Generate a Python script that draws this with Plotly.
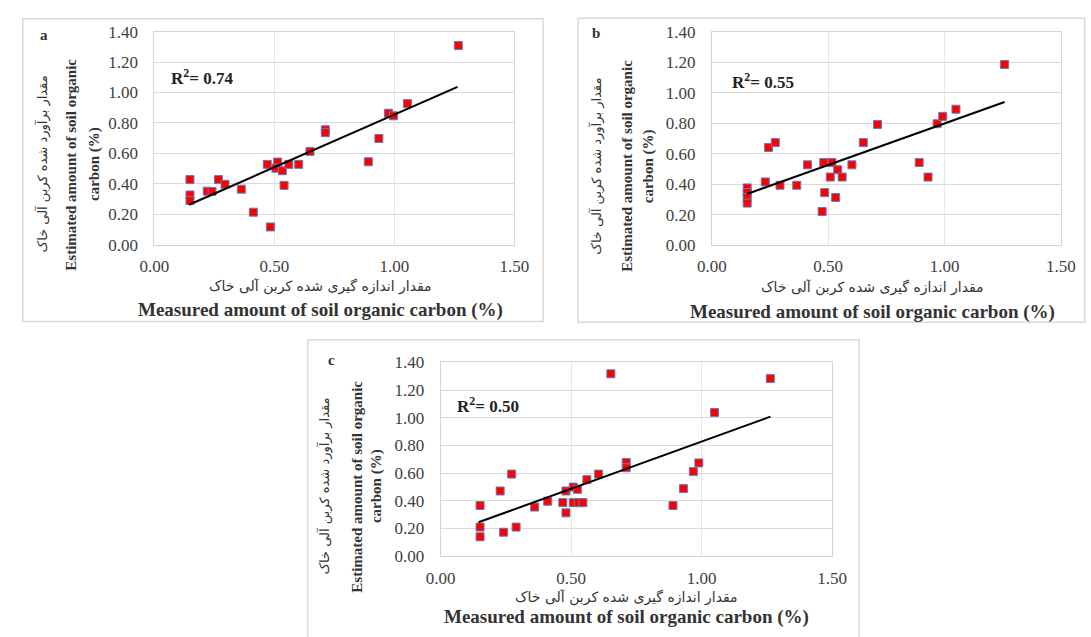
import plotly.graph_objects as go

# ---------------- data ----------------
a_x = [0.148, 0.148, 0.148, 0.22, 0.24, 0.267, 0.294, 0.362, 0.412, 0.483, 0.470, 0.513, 0.506,
       0.533, 0.540, 0.560, 0.601, 0.648, 0.712, 0.712, 0.891, 0.935, 0.975, 0.996, 1.054, 1.266]
a_y = [0.428, 0.327, 0.291, 0.352, 0.350, 0.428, 0.397, 0.365, 0.214, 0.117, 0.528, 0.543, 0.503,
       0.486, 0.390, 0.528, 0.528, 0.613, 0.755, 0.736, 0.545, 0.698, 0.864, 0.847, 0.927, 1.309]
a_trend_x = [0.144, 1.263]
a_trend_y = [0.263, 1.037]

b_x = [0.152, 0.152, 0.152, 0.152, 0.230, 0.244, 0.273, 0.293, 0.365, 0.411, 0.474, 0.485, 0.481,
       0.516, 0.509, 0.532, 0.541, 0.560, 0.602, 0.651, 0.712, 0.891, 0.929, 0.968, 0.992, 1.049, 1.258]
b_y = [0.375, 0.345, 0.310, 0.275, 0.414, 0.640, 0.672, 0.392, 0.392, 0.526, 0.220, 0.344, 0.541,
       0.541, 0.446, 0.312, 0.494, 0.446, 0.526, 0.672, 0.791, 0.541, 0.446, 0.796, 0.844, 0.891, 1.184]
b_trend_x = [0.151, 1.258]
b_trend_y = [0.335, 0.938]

c_x = [0.151, 0.151, 0.151, 0.228, 0.241, 0.272, 0.289, 0.360, 0.410, 0.468, 0.480, 0.480, 0.508, 0.508,
       0.524, 0.528, 0.545, 0.560, 0.605, 0.652, 0.711, 0.711, 0.890, 0.930, 0.968, 0.989, 1.049, 1.263]
c_y = [0.366, 0.210, 0.140, 0.471, 0.173, 0.593, 0.210, 0.355, 0.397, 0.387, 0.471, 0.313, 0.499, 0.387,
       0.483, 0.387, 0.387, 0.553, 0.593, 1.318, 0.677, 0.639, 0.366, 0.488, 0.611, 0.674, 1.038, 1.283]
c_trend_x = [0.145, 1.263]
c_trend_y = [0.245, 1.008]

panel_letters = ["a", "b", "c"]
r2_labels = ["R<sup>2</sup>= 0.74", "R<sup>2</sup>= 0.55", "R<sup>2</sup>= 0.50"]
x_ticks = [0.0, 0.5, 1.0, 1.5]
y_ticks = [0.0, 0.2, 0.4, 0.6, 0.8, 1.0, 1.2, 1.4]
x_title_en = "Measured amount of soil organic carbon (%)"
x_title_fa = "مقدار اندازه گیری شده کربن آلی خاک"
y_title_en1 = "Estimated amount of soil organic"
y_title_en2 = "carbon (%)"
y_title_fa = "مقدار برآورد شده کربن آلی خاک"

# ---------------- layout geometry (pixels) ----------------
W, H = 1091, 637
def px(x): return x / W
def py(y): return 1 - y / H

panels = [
    # plot area (l, r, t, b), box (l, r, t, b)
    dict(plot=(143.4, 513.6, 23.3, 243.0), box=(8, 543, 10, 322),
         letter=(30, 27), r2=(158, 70), ytl=(28, 58, 81, 160), xtl=(314, 286, 310)),
    dict(plot=(716.5, 1075.5, 23.3, 243.3), box=(579, 1100, 9.5, 323),
         letter=(597, 25), r2=(735, 74), ytl=(598, 629, 651, 162), xtl=(882, 287, 312)),
    dict(plot=(437.7, 840.3, 364.3, 564.0), box=(301, 868, 341, 660),
         letter=(325, 362), r2=(452, 408), ytl=(318, 352, 372, 492), xtl=(629, 607, 627)),
]

datasets = [(a_x, a_y, a_trend_x, a_trend_y), (b_x, b_y, b_trend_x, b_trend_y),
            (c_x, c_y, c_trend_x, c_trend_y)]

serif = "Liberation Serif, Times New Roman, serif"
fa_font = "DejaVu Sans, Noto Sans, sans-serif"

fig = go.Figure()
shapes, annotations = [], []
layout_axes = {}

for i, (p, d) in enumerate(zip(panels, datasets)):
    n = "" if i == 0 else str(i + 1)
    xa, ya = "x" + n, "y" + n
    l, r, t, b = p["plot"]
    fig.add_trace(go.Scatter(x=d[0], y=d[1], mode="markers", xaxis=xa, yaxis=ya,
                             marker=dict(symbol="square", size=8, color="#ff0000",
                                         line=dict(color="#5b80c0", width=1)),
                             showlegend=False))
    fig.add_trace(go.Scatter(x=d[2], y=d[3], mode="lines", xaxis=xa, yaxis=ya,
                             line=dict(color="black", width=2), showlegend=False))
    layout_axes["xaxis" + n] = dict(
        domain=[px(l), px(r)], anchor=ya, range=[0, 1.5], tickvals=x_ticks,
        tickformat=".2f", showgrid=True, gridcolor="#ebe7dc", gridwidth=1,
        zeroline=False, showline=True, mirror=True, linecolor="#d4d4d4", linewidth=1,
        ticks="outside", ticklen=6, tickcolor="rgba(0,0,0,0)",
        tickfont=dict(family=serif, size=17, color="#404040"),
        fixedrange=True)
    layout_axes["yaxis" + n] = dict(
        domain=[py(b), py(t)], anchor=xa, range=[0, 1.4], tickvals=y_ticks,
        tickformat=".2f", showgrid=True, gridcolor="#dadada", gridwidth=1,
        zeroline=False, showline=True, mirror=True, linecolor="#d4d4d4", linewidth=1,
        ticks="outside", ticklen=12, tickcolor="rgba(0,0,0,0)",
        tickfont=dict(family=serif, size=17, color="#404040"),
        fixedrange=True)
    bl, br, bt, bb = p["box"]
    shapes.append(dict(type="rect", xref="paper", yref="paper", x0=px(bl), x1=px(br),
                       y0=py(bb), y1=py(bt), line=dict(color="#d9d9d9", width=1.5)))
    # panel letter
    annotations.append(dict(text="<b>%s</b>" % panel_letters[i], x=px(p["letter"][0]),
                            y=py(p["letter"][1]), xref="paper", yref="paper",
                            showarrow=False, font=dict(family=serif, size=15, color="#333"),
                            xanchor="center", yanchor="middle"))
    # R2
    annotations.append(dict(text="<b>%s</b>" % r2_labels[i], x=px(p["r2"][0]),
                            y=py(p["r2"][1]), xref="paper", yref="paper",
                            showarrow=False, font=dict(family=serif, size=17, color="#222"),
                            xanchor="left", yanchor="middle"))
    # y titles
    fx, e1x, e2x, yc = p["ytl"]
    annotations.append(dict(text=y_title_fa, x=px(fx), y=py(yc), xref="paper", yref="paper",
                            textangle=-90, showarrow=False,
                            font=dict(family=fa_font, size=13, color="#333"),
                            xanchor="center", yanchor="middle"))
    annotations.append(dict(text="<b>%s</b>" % y_title_en1, x=px(e1x), y=py(yc), xref="paper",
                            yref="paper", textangle=-90, showarrow=False,
                            font=dict(family=serif, size=15, color="#333"),
                            xanchor="center", yanchor="middle"))
    annotations.append(dict(text="<b>%s</b>" % y_title_en2, x=px(e2x), y=py(yc), xref="paper",
                            yref="paper", textangle=-90, showarrow=False,
                            font=dict(family=serif, size=15, color="#333"),
                            xanchor="center", yanchor="middle"))
    # x titles
    xc, fy, ey = p["xtl"]
    annotations.append(dict(text=x_title_fa, x=px(xc), y=py(fy), xref="paper", yref="paper",
                            showarrow=False, font=dict(family=fa_font, size=14, color="#333"),
                            xanchor="center", yanchor="middle"))
    annotations.append(dict(text="<b>%s</b>" % x_title_en, x=px(xc), y=py(ey), xref="paper",
                            yref="paper", showarrow=False,
                            font=dict(family=serif, size=19, color="#333"),
                            xanchor="center", yanchor="middle"))

fig.update_layout(width=W, height=H, margin=dict(l=0, r=0, t=0, b=0),
                  paper_bgcolor="white", plot_bgcolor="white",
                  shapes=shapes, annotations=annotations, **layout_axes)

fig.write_html("out.html")
